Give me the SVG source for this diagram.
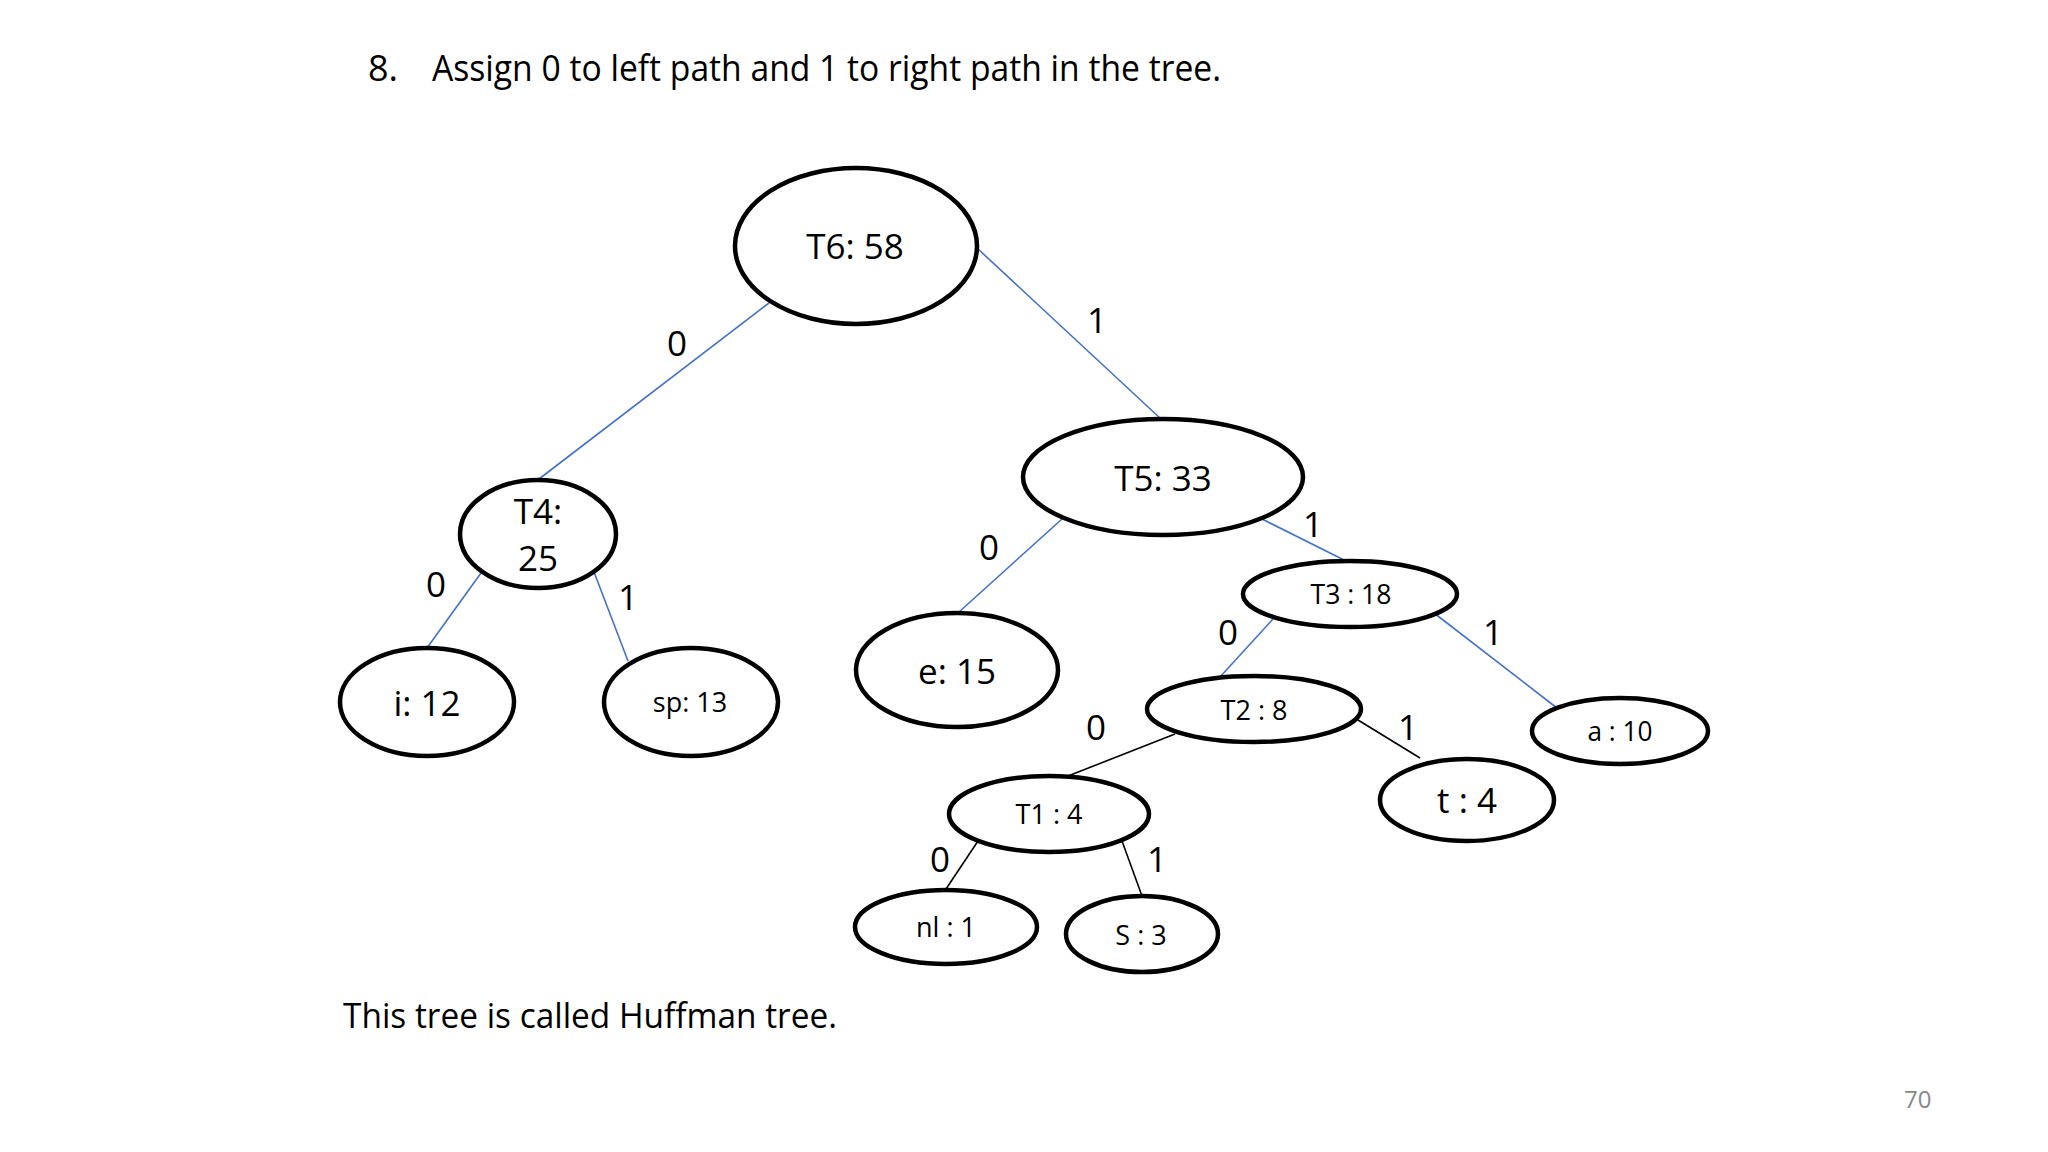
<svg xmlns="http://www.w3.org/2000/svg" width="2048" height="1152" viewBox="0 0 2048 1152">
<style>
.n{fill:#fff;stroke:#000;stroke-width:4.5}
.t{font-family:"Open Sans","Liberation Sans",sans-serif;fill:#000;text-anchor:middle}
.big{font-size:35px}
.sm{font-size:27px}
.lb{font-family:"Open Sans","Liberation Sans",sans-serif;font-size:35px;fill:#000;text-anchor:middle}
.b{stroke:#4472C4;stroke-width:1.6;fill:none}
.k{stroke:#000;stroke-width:1.6;fill:none}
.p{font-family:"Open Sans","Liberation Sans",sans-serif;fill:#000}
</style>
<rect width="2048" height="1152" fill="#fff"/>
<text class="p" x="368" y="81" font-size="36">8.</text>
<text class="p" x="432" y="81" font-size="36" textLength="789" lengthAdjust="spacingAndGlyphs">Assign 0 to left path and 1 to right path in the tree.</text>
<g id="connectors">
<line class="b" x1="769" y1="303" x2="539" y2="479"/>
<line class="b" x1="977" y1="248" x2="1161" y2="419"/>
<line class="b" x1="481" y1="573" x2="427" y2="648"/>
<line class="b" x1="594" y1="572" x2="628" y2="661"/>
<line class="b" x1="1062" y1="519" x2="959" y2="612"/>
<line class="b" x1="1262" y1="519" x2="1348" y2="562"/>
<line class="b" x1="1273" y1="619" x2="1220" y2="677"/>
<line class="b" x1="1434" y1="613" x2="1557" y2="708"/>
<line class="k" x1="1175" y1="734" x2="1068" y2="776"/>
<line class="k" x1="1358" y1="720" x2="1420" y2="758"/>
<line class="k" x1="978" y1="841" x2="946" y2="889"/>
<line class="k" x1="1122" y1="841" x2="1142" y2="896"/>
<text class="lb" x="677" y="356">0</text>
<text class="lb" x="1097" y="333">1</text>
<text class="lb" x="436" y="597">0</text>
<text class="lb" x="628" y="610">1</text>
<text class="lb" x="989" y="560">0</text>
<text class="lb" x="1313" y="537">1</text>
<text class="lb" x="1228" y="645">0</text>
<text class="lb" x="1493" y="645">1</text>
<text class="lb" x="1096" y="740">0</text>
<text class="lb" x="1408" y="740">1</text>
<text class="lb" x="940" y="872">0</text>
<text class="lb" x="1157" y="872">1</text>
</g>
<g id="T6"><ellipse class="n" cx="856" cy="246" rx="121" ry="78"/><text class="t big" x="855" y="259">T6: 58</text></g>
<g id="T5"><ellipse class="n" cx="1163" cy="477" rx="140" ry="58"/><text class="t big" x="1163" y="491">T5: 33</text></g>
<g id="T4"><ellipse class="n" cx="538" cy="534" rx="78" ry="54"/><text class="t big" x="538" y="524">T4:</text><text class="t big" x="538" y="571">25</text></g>
<g id="i"><ellipse class="n" cx="427" cy="702" rx="87" ry="54"/><text class="t big" x="427" y="716">i: 12</text></g>
<g id="sp"><ellipse class="n" cx="691" cy="702" rx="87" ry="54"/><text class="t sm" x="690" y="712">sp: 13</text></g>
<g id="e"><ellipse class="n" cx="957" cy="670" rx="101" ry="57"/><text class="t big" x="957" y="684">e: 15</text></g>
<g id="T3"><ellipse class="n" cx="1350" cy="594" rx="107" ry="33"/><text class="t sm" x="1351" y="604" textLength="81" lengthAdjust="spacingAndGlyphs">T3 : 18</text></g>
<g id="T2"><ellipse class="n" cx="1254" cy="709" rx="107" ry="33"/><text class="t sm" x="1254" y="720" textLength="67" lengthAdjust="spacingAndGlyphs">T2 : 8</text></g>
<g id="a"><ellipse class="n" cx="1620" cy="731" rx="88" ry="33"/><text class="t sm" x="1620" y="741" textLength="65" lengthAdjust="spacingAndGlyphs">a : 10</text></g>
<g id="t"><ellipse class="n" cx="1467" cy="800" rx="87" ry="41"/><text class="t big" x="1467" y="813">t : 4</text></g>
<g id="T1"><ellipse class="n" cx="1049" cy="814" rx="100" ry="38"/><text class="t sm" x="1049" y="824">T1 : 4</text></g>
<g id="nl"><ellipse class="n" cx="946" cy="927" rx="91" ry="37"/><text class="t sm" x="946" y="937">nl : 1</text></g>
<g id="S"><ellipse class="n" cx="1142" cy="934" rx="76" ry="38"/><text class="t sm" x="1141" y="945">S : 3</text></g>
<text class="p" x="343" y="1028" font-size="34" textLength="494" lengthAdjust="spacingAndGlyphs">This tree is called Huffman tree.</text>
<text class="p" x="1904" y="1108" font-size="24" fill="#888" style="fill:#888">70</text>
</svg>
